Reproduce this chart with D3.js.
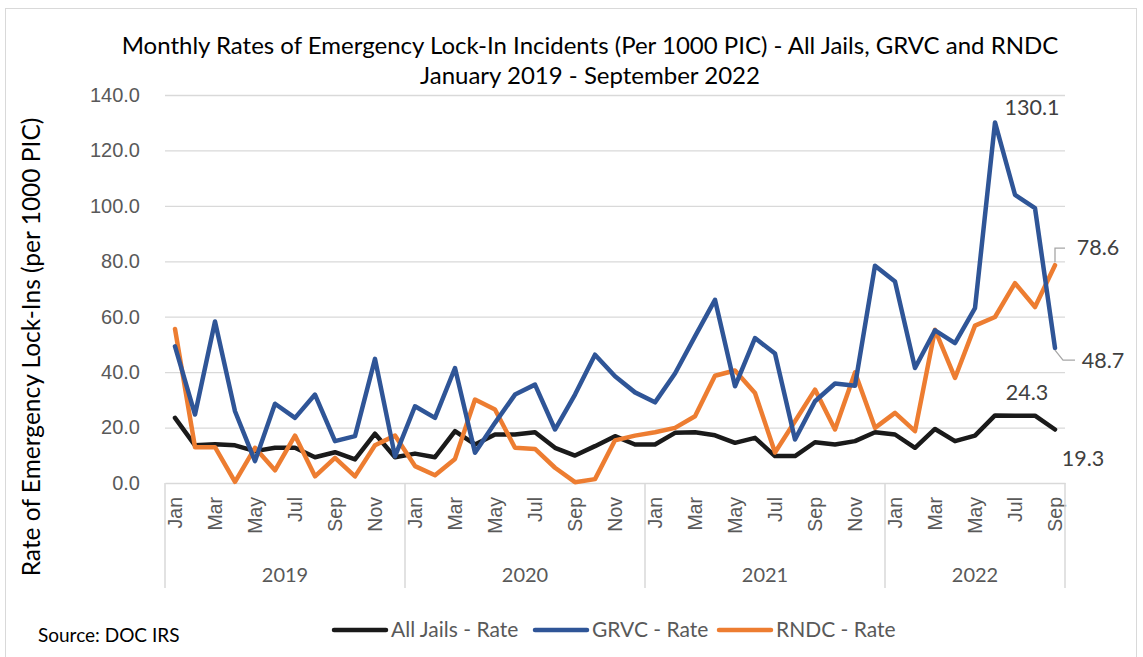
<!DOCTYPE html>
<html>
<head>
<meta charset="utf-8">
<script src="https://cdn.jsdelivr.net/npm/d3@7"></script>
<style>
    body { margin: 0; background: #fff; }
    svg { display: block; font-family: Lato, "Open Sans", sans-serif; }
</style>
</head>
<body>
<svg id="lineChart" width="1143" height="657"></svg>
<script>
// month labels (one per data point), years
var months = ["Jan", "Feb", "Mar", "Apr", "May", "Jun", "Jul", "Aug", "Sep", "Oct", "Nov", "Dec"];
var years = ["2019", "2020", "2021", "2022"];
var yTicks = [0, 20, 40, 60, 80, 100, 120, 140];

// Jan 2019 .. Sep 2022
var allJails = [23.5, 13.6, 14.0, 13.6, 11.5, 12.7, 12.7, 9.3, 11.1, 8.5, 17.8, 9.3,
    10.6, 9.3, 18.7, 13.9, 17.5, 17.5, 18.3, 12.7, 9.9, 13.3, 16.9, 13.9,
    13.9, 18.1, 18.3, 17.2, 14.5, 16.3, 9.7, 9.7, 14.7, 13.9, 15.1, 18.3,
    17.5, 12.7, 19.5, 15.1, 17.1, 24.4, 24.3, 24.3, 19.3];
var grvc = [49.3, 24.7, 58.3, 25.9, 7.9, 28.6, 23.5, 31.9, 15.1, 16.9, 44.8, 9.6,
    27.7, 23.5, 41.5, 10.9, 21.7, 31.9, 35.5, 19.3, 31.9, 46.3, 38.5, 32.7,
    29.1, 39.5, 52.9, 66.1, 34.9, 52.3, 46.7, 15.7, 29.5, 35.9, 35.1, 78.4,
    72.7, 41.5, 55.1, 50.5, 63.1, 130.1, 104.0, 99.2, 48.7];
var rndc = [55.6, 12.9, 12.9, 0.4, 12.7, 4.6, 17.1, 2.4, 9.1, 2.4, 13.6, 17.1,
    6.1, 2.8, 8.7, 30.1, 26.5, 12.7, 12.3, 5.5, 0.3, 1.4, 15.4, 17.1,
    18.3, 19.9, 24.1, 38.7, 40.6, 32.5, 11.0, 22.3, 33.7, 19.3, 39.9, 19.9,
    25.3, 18.7, 55.3, 37.9, 56.8, 59.9, 72.1, 63.5, 78.6];

var seriesNames = ["All Jails - Rate", "GRVC - Rate", "RNDC - Rate"];
var seriesColors = ["#1a1a1a", "#2f5597", "#ed7d31"];

var svg = d3.select("svg#lineChart"),
    margin = { top: 95, right: 78, bottom: 174, left: 165 },
    width = 1143 - margin.left - margin.right,
    height = 657 - margin.top - margin.bottom;

var n = grvc.length;
var x = d3.scaleBand().domain(d3.range(n)).range([0, width]).padding(0);
var y = d3.scaleLinear().domain([0, 140]).range([height, 0]);
var cx = function (i) { return x(i) + x.bandwidth() / 2; };

// outer border
svg.append("rect")
    .attr("x", 5.5).attr("y", 8.5)
    .attr("width", 1131).attr("height", 660)
    .attr("fill", "none")
    .attr("stroke", "#d9d9d9");

// title
svg.append("text")
    .attr("x", 590).attr("y", 54)
    .attr("text-anchor", "middle")
    .style("font-size", "24px")
    .style("fill", "#000")
    .text("Monthly Rates of Emergency Lock-In Incidents (Per 1000 PIC) - All Jails, GRVC and RNDC");

svg.append("text")
    .attr("x", 590).attr("y", 84)
    .attr("text-anchor", "middle")
    .style("font-size", "24px")
    .style("fill", "#000")
    .text("January 2019 - September 2022");

var g = svg.append("g")
    .attr("transform", "translate(" + margin.left + "," + margin.top + ")");

// gridlines + y axis
g.append("g")
    .attr("class", "grid")
    .call(d3.axisLeft(y).tickValues(yTicks).tickSize(-width).tickFormat(""))
    .call(function (s) {
        s.select(".domain").remove();
        s.selectAll("line").attr("stroke", "#d9d9d9").attr("stroke-width", 1.3);
        s.selectAll(".tick").filter(function (d) { return d === 0; }).remove();
    });

g.append("g")
    .attr("class", "axis axis--y")
    .call(d3.axisLeft(y).tickValues(yTicks).tickSize(0).tickPadding(25).tickFormat(d3.format(".1f")))
    .call(function (s) {
        s.select(".domain").remove();
        s.selectAll("text").style("font-size", "20px").style("fill", "#595959");
    });

// y axis title
svg.append("text")
    .attr("transform", "translate(40,347) rotate(-90)")
    .attr("text-anchor", "middle")
    .style("font-size", "24.5px")
    .style("fill", "#000")
    .text("Rate of Emergency Lock-Ins (per 1000 PIC)");

// x axis (months)
var xAxis = g.append("g")
    .attr("class", "axis axis--x")
    .attr("transform", "translate(0," + height + ")")
    .call(d3.axisBottom(x).tickSize(0).tickFormat(function (i) {
        return i % 2 === 0 ? months[i % 12] : "";
    }));

xAxis.select(".domain").attr("stroke", "#d9d9d9").attr("stroke-width", 1.5);
xAxis.selectAll("text")
    .attr("y", 0)
    .attr("x", -14)
    .attr("dy", ".35em")
    .attr("transform", "rotate(-90)")
    .style("text-anchor", "end")
    .style("font-size", "19.5px")
    .style("fill", "#595959");

// year separators and labels
var yearEdges = d3.range(years.length + 1).map(function (k) { return Math.min(k * 12, n); });
g.selectAll(".year-sep")
    .data(yearEdges)
    .enter()
    .append("line")
    .attr("class", "year-sep")
    .attr("x1", function (k) { return k < n ? x(k) : width; })
    .attr("x2", function (k) { return k < n ? x(k) : width; })
    .attr("y1", height)
    .attr("y2", height + 105)
    .attr("stroke", "#d9d9d9")
    .attr("stroke-width", 1.5);

g.selectAll(".year-label")
    .data(years)
    .enter()
    .append("text")
    .attr("class", "year-label")
    .attr("x", function (d, k) {
        var a = x(yearEdges[k]), b = yearEdges[k + 1] < n ? x(yearEdges[k + 1]) : width;
        return (a + b) / 2;
    })
    .attr("y", height + 99)
    .attr("text-anchor", "middle")
    .style("font-size", "20px")
    .style("fill", "#595959")
    .text(function (d) { return d; });

// lines
var line = d3.line()
    .x(function (d, i) { return cx(i); })
    .y(function (d) { return y(d); });

[allJails, rndc, grvc].forEach(function (data) {
    var idx = data === allJails ? 0 : (data === grvc ? 1 : 2);
    g.append("path")
        .datum(data)
        .attr("fill", "none")
        .attr("stroke", seriesColors[idx])
        .attr("stroke-width", 4.5)
        .attr("stroke-linejoin", "round")
        .attr("stroke-linecap", "round")
        .attr("d", line);
});

// data labels
function label(txt, px, py) {
    g.append("text")
        .attr("x", px).attr("y", py)
        .attr("text-anchor", "middle")
        .attr("dy", ".35em")
        .style("font-size", "21.5px")
        .style("fill", "#404040")
        .text(txt);
}
label(grvc[41].toFixed(1), cx(41) + 37, y(grvc[41]) - 15);
label(allJails[43].toFixed(1), cx(43) - 8, y(allJails[43]) - 23);
label(allJails[44].toFixed(1), cx(44) + 28, y(allJails[44]) + 29);
label(rndc[44].toFixed(1), cx(44) + 43, y(rndc[44]) - 18);
label(grvc[44].toFixed(1), cx(44) + 48, y(grvc[44]) + 12);

// leader lines
g.append("path")
    .attr("d", "M" + cx(44) + "," + (y(rndc[44]) - 3) + "v-14h10")
    .attr("fill", "none").attr("stroke", "#a6a6a6").attr("stroke-width", 1.3);
g.append("path")
    .attr("d", "M" + cx(44) + "," + (y(grvc[44]) + 2) + "l8,10h12")
    .attr("fill", "none").attr("stroke", "#a6a6a6").attr("stroke-width", 1.3);

// legend
var legend = svg.append("g").attr("transform", "translate(332,630)");
var legX = [0, 201, 385];
seriesNames.forEach(function (name, i) {
    var lg = legend.append("g").attr("transform", "translate(" + legX[i] + ",0)");
    lg.append("line")
        .attr("x1", 2).attr("x2", 54)
        .attr("y1", 0).attr("y2", 0)
        .attr("stroke", seriesColors[i])
        .attr("stroke-width", 4.5)
        .attr("stroke-linecap", "round");
    lg.append("text")
        .attr("x", 59).attr("dy", ".35em")
        .style("font-size", "21px")
        .style("fill", "#595959")
        .text(name);
});

// source note
svg.append("text")
    .attr("x", 38).attr("y", 642)
    .style("font-size", "19px")
    .style("fill", "#000")
    .text("Source: DOC IRS");
</script>
</body>
</html>
